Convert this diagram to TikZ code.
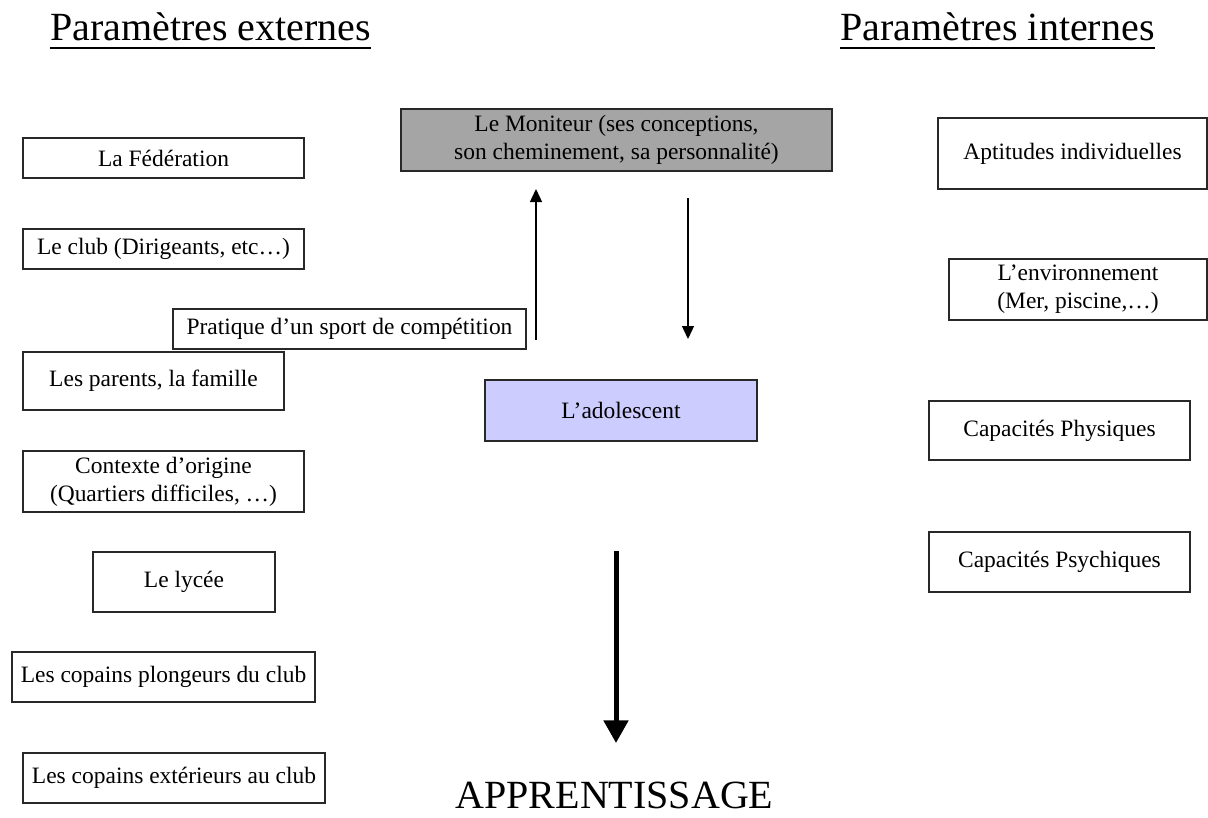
\documentclass[tikz,border=0pt]{standalone}
\usepackage{fontspec}
\setmainfont{Liberation Serif}
\usetikzlibrary{arrows.meta}
\definecolor{mongray}{RGB}{165,165,165}
\definecolor{adoblue}{RGB}{204,204,255}
\definecolor{edge}{RGB}{40,40,40}
\tikzset{
  px/.style={x=0.75pt,y=-0.75pt},
  wh/.style 2 args={minimum width=#1*0.75pt, minimum height=#2*0.75pt},
  box/.style={draw=edge, line width=1pt, fill=white, inner sep=0pt, align=center,
    font=\fontsize{17.6}{21}\selectfont},
  title/.style={inner sep=0pt, anchor=base west, font=\fontsize{30}{34}\selectfont},
  thinarrow/.style={line width=1pt, -{Triangle[length=9.75pt,width=9pt]}},
  bigarrow/.style={line width=3.75pt, -{Triangle[length=17pt,width=18pt]}},
  uline/.style={line width=1.6pt}
}
\begin{document}
\begin{tikzpicture}[px]
\useasboundingbox (0,0) rectangle (1208,818);
% titles
\node[title] (te) at (50,40) {Paramètres externes};
\node[title] (ti) at (840,40) {Paramètres internes};
\draw[uline] ([yshift=-6pt]te.base west) -- ([yshift=-6pt]te.base east);
\draw[uline] ([yshift=-6pt]ti.base west) -- ([yshift=-6pt]ti.base east);
% left column
\node[box, wh={281}{40}] (fed) at (163.5,158) {La Fédération};
\node[box, wh={281}{40}] (club) at (163.5,249) {Le club (Dirigeants, etc…)};
\node[box, wh={353}{40}] (prat) at (349.5,329) {Pratique d’un sport de compétition};
\node[box, wh={261}{58}] (par) at (153.5,381) {Les parents, la famille};
\node[box, wh={281}{61}] (ctx) at (163.5,481.5) {Contexte d’origine\\(Quartiers difficiles, …)};
\node[box, wh={182}{60}] (lyc) at (184,582) {Le lycée};
\node[box, wh={303}{50}] (plg) at (163.5,677) {Les copains plongeurs du club};
\node[box, wh={302}{50}] (ext) at (174,778) {Les copains extérieurs au club};
% centre
\node[box, fill=mongray, wh={431}{62}] (mon) at (616.5,140) {Le Moniteur (ses conceptions,\\son cheminement, sa personnalité)};
\node[box, fill=adoblue, wh={272}{61}] (ado) at (621,410.5) {L’adolescent};
\node[inner sep=0pt, anchor=base, font=\fontsize{30}{34}\selectfont] (app) at (614.5,808) {APPRENTISSAGE};
% right column
\node[box, wh={269}{71}] (apt) at (1072.5,153.5) {Aptitudes individuelles};
\node[box, wh={258}{61}] (env) at (1078,289.5) {L’environnement\\(Mer, piscine,…)};
\node[box, wh={261}{59}] (phy) at (1059.5,430.5) {Capacités Physiques};
\node[box, wh={261}{60}] (psy) at (1059.5,562) {Capacités Psychiques};
% connectors
\coordinate (upS) at (536,340);
\coordinate (upE) at (536,189);
\coordinate (dnS) at (688,198);
\coordinate (dnE) at (688,339);
\coordinate (bgS) at (616,551);
\coordinate (bgE) at (616,743);
\draw[thinarrow] (upS) -- (upE);
\draw[thinarrow] (dnS) -- (dnE);
\draw[bigarrow] (bgS) -- (bgE);
\end{tikzpicture}
\end{document}
